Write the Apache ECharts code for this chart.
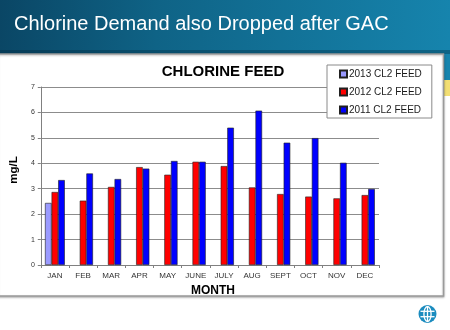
<!DOCTYPE html>
<html>
<head>
<meta charset="utf-8">
<script src="https://cdn.jsdelivr.net/npm/echarts@6/dist/echarts.min.js"></script>
<style>
  html, body { margin: 0; padding: 0; background: #ffffff; }
  #chart { width: 450px; height: 330px; }
</style>
</head>
<body>
<div id="chart"></div>
<script>
// Monthly chlorine feed (mg/L) by year
const months = ['JAN', 'FEB', 'MAR', 'APR', 'MAY', 'JUNE', 'JULY', 'AUG', 'SEPT', 'OCT', 'NOV', 'DEC'];
const feed2013 = [2.44, null, null, null, null, null, null, null, null, null, null, null];
const feed2012 = [2.87, 2.53, 3.07, 3.85, 3.55, 4.06, 3.89, 3.05, 2.79, 2.69, 2.62, 2.75];
const feed2011 = [3.34, 3.60, 3.38, 3.79, 4.09, 4.06, 5.40, 6.07, 4.81, 4.99, 4.02, 2.99];
const yTicks = [0, 1, 2, 3, 4, 5, 6, 7];

const chart = echarts.init(document.getElementById('chart'), null, { renderer: 'canvas' });

const barStyle = (color) => ({ color: color, borderColor: '#202020', borderWidth: 0.6 });

chart.setOption({
  animation: false,
  backgroundColor: '#ffffff',
  textStyle: { fontFamily: 'Liberation Sans, Arial, sans-serif' },
  graphic: [
    // slide header band
    {
      type: 'rect', z: -10, silent: true,
      shape: { x: 0, y: 0, width: 450, height: 54 },
      style: {
        fill: new echarts.graphic.LinearGradient(0, 0, 1, 0.3, [
          { offset: 0, color: '#0a4665' },
          { offset: 0.35, color: '#0f6386' },
          { offset: 1, color: '#1684ad' }
        ])
      }
    },
    {
      type: 'rect', z: -9, silent: true,
      shape: { x: 0, y: 50, width: 450, height: 4 },
      style: { fill: 'rgba(0,40,60,0.35)' }
    },
    // accent strip at right edge
    {
      type: 'rect', z: -10, silent: true,
      shape: { x: 444, y: 54, width: 6, height: 26 },
      style: { fill: '#1684ad' }
    },
    {
      type: 'rect', z: -10, silent: true,
      shape: { x: 444, y: 80, width: 6, height: 16 },
      style: { fill: '#f3df73' }
    },
    {
      type: 'text', left: 14, top: 14, silent: true,
      style: { text: 'Chlorine Demand also Dropped after GAC', fill: '#ffffff', font: '20px "Liberation Sans", Arial, sans-serif' }
    },
    // chart panel
    {
      type: 'rect', z: -5, silent: true,
      shape: { x: -2, y: 54, width: 445.5, height: 242 },
      style: { fill: '#ffffff', stroke: '#9a9a9a', lineWidth: 1.5, shadowColor: 'rgba(0,0,0,0.25)', shadowBlur: 2, shadowOffsetY: 1 }
    },
    // logo globe
    {
      type: 'group', left: 418, top: 304, silent: true,
      children: [
        { type: 'circle', shape: { cx: 9, cy: 9, r: 9 }, style: { fill: '#1b8cbf' } },
        { type: 'ellipse', shape: { cx: 9, cy: 9, rx: 3.6, ry: 7.5 }, style: { fill: 'none', stroke: '#ffffff', lineWidth: 1.3 } },
        { type: 'line', shape: { x1: 9, y1: 1.5, x2: 9, y2: 16.5 }, style: { stroke: '#ffffff', lineWidth: 1.3 } },
        { type: 'line', shape: { x1: 2, y1: 6.3, x2: 16, y2: 6.3 }, style: { stroke: '#ffffff', lineWidth: 1.3 } },
        { type: 'line', shape: { x1: 2, y1: 11.7, x2: 16, y2: 11.7 }, style: { stroke: '#ffffff', lineWidth: 1.3 } }
      ]
    }
  ],
  title: {
    text: 'CHLORINE FEED',
    left: 218, top: 59, textAlign: 'center',
    textStyle: { fontSize: 15, fontWeight: 'bold', color: '#000000', fontFamily: 'Liberation Sans, Arial, sans-serif' }
  },
  legend: {
    orient: 'vertical',
    left: 327, top: 65,
    width: 105,
    padding: [4, 10, 3, 12],
    itemWidth: 7, itemHeight: 7, itemGap: 8,
    backgroundColor: '#ffffff',
    borderColor: '#8a8a8a', borderWidth: 1,
    icon: 'rect',
    textStyle: { fontSize: 10, color: '#1a1a1a', padding: [0, 0, 0, -3] },
    data: ['2013 CL2 FEED', '2012 CL2 FEED', '2011 CL2 FEED']
  },
  grid: { left: 25, right: 71, top: 87, bottom: 65, containLabel: false },
  xAxis: {
    type: 'category',
    data: months,
    name: 'MONTH',
    nameLocation: 'middle',
    nameGap: 17,
    nameTextStyle: { fontSize: 12, fontWeight: 'bold', color: '#000000', padding: [0, 0, 0, 6] },
    axisLine: { lineStyle: { color: '#808080', width: 1 } },
    axisTick: { show: true, length: 3, lineStyle: { color: '#808080' } },
    axisLabel: { fontSize: 8, color: '#333333', margin: 7 }
  },
  yAxis: {
    type: 'value',
    min: 0, max: 7, interval: 1,
    name: 'mg/L',
    nameLocation: 'middle',
    nameGap: 15,
    nameTextStyle: { fontSize: 11.5, fontWeight: 'bold', color: '#000000', padding: [0, 0, 0, 12] },
    axisLine: { show: true, lineStyle: { color: '#808080', width: 1 } },
    axisTick: { show: true, length: 3, lineStyle: { color: '#808080' } },
    axisLabel: { fontSize: 7, color: '#333333', margin: 6, formatter: (v) => yTicks.includes(v) ? String(v) : '' },
    splitLine: { show: true, lineStyle: { color: '#8c8c8c', width: 1 } }
  },
  series: [
    { name: '2013 CL2 FEED', type: 'bar', data: feed2013, barWidth: 6.6, barGap: '0%', itemStyle: barStyle('#9a9aff') },
    { name: '2012 CL2 FEED', type: 'bar', data: feed2012, barWidth: 6.6, barGap: '0%', itemStyle: barStyle('#ff0000') },
    { name: '2011 CL2 FEED', type: 'bar', data: feed2011, barWidth: 6.6, barGap: '0%', itemStyle: barStyle('#0000ff') }
  ]
});
</script>
</body>
</html>
